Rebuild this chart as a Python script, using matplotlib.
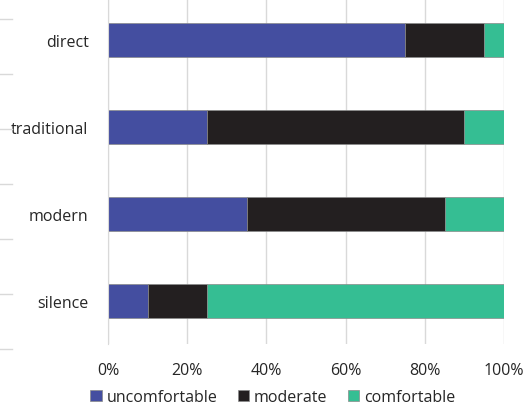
import matplotlib
matplotlib.use("Agg")
import matplotlib.pyplot as plt
from matplotlib.lines import Line2D
import numpy as np

categories = ["direct", "traditional", "modern", "silence"]
uncomfortable = [75, 25, 35, 10]
moderate = [20, 65, 50, 15]
comfortable = [5, 10, 15, 75]
series_names = ["uncomfortable", "moderate", "comfortable"]
colors = ["#444ea0", "#231f20", "#35be93"]

plt.rcParams['font.family'] = ['Open Sans', 'DejaVu Sans']

fig = plt.figure(figsize=(5.25, 4.06), dpi=100)
ax = fig.add_axes([108 / 525, 61 / 406, 396 / 525, 347 / 406])

y = np.arange(len(categories))
left = np.zeros(len(categories))
for vals, name, col in zip([uncomfortable, moderate, comfortable], series_names, colors):
    ax.barh(y, vals, left=left, height=0.39, color=col, label=name,
            edgecolor="#8a8a8a", linewidth=0.5, zorder=3)
    left += np.array(vals)

ax.set_ylim(len(categories) - 0.5, -0.5)
ax.set_xlim(0, 100)
ax.set_yticks(y)
ax.set_yticklabels(categories, fontsize=11.5, color="#262626")
ax.set_xticks(range(0, 101, 20))
ax.set_xticklabels([f"{v}%" for v in range(0, 101, 20)], fontsize=11.5, color="#262626")
ax.tick_params(axis="both", length=0)
ax.tick_params(axis="x", pad=13)
ax.tick_params(axis="y", pad=14)

ax.grid(axis="x", color="#d9d9d9", linewidth=1, zorder=0)
for s in ["top", "right", "bottom"]:
    ax.spines[s].set_visible(False)
ax.spines["left"].set_color("#d9d9d9")
ax.spines["left"].set_zorder(4)

# small leftover tick marks at the left edge
for yy in [20, 75, 130, 185, 240, 295, 350]:
    fig.add_artist(Line2D([0, 12 / 525], [1 - yy / 406, 1 - yy / 406],
                          color="#d9d9d9", linewidth=1))

fig.legend(*ax.get_legend_handles_labels(), loc="center",
           bbox_to_anchor=(273 / 525, 1 - 398 / 406), ncol=3, frameon=False,
           fontsize=11.5, handlelength=0.7, handleheight=0.7, handletextpad=0.3,
           columnspacing=1.3, labelcolor="#262626", borderpad=0, borderaxespad=0)

fig.savefig("out.png", dpi=100)
